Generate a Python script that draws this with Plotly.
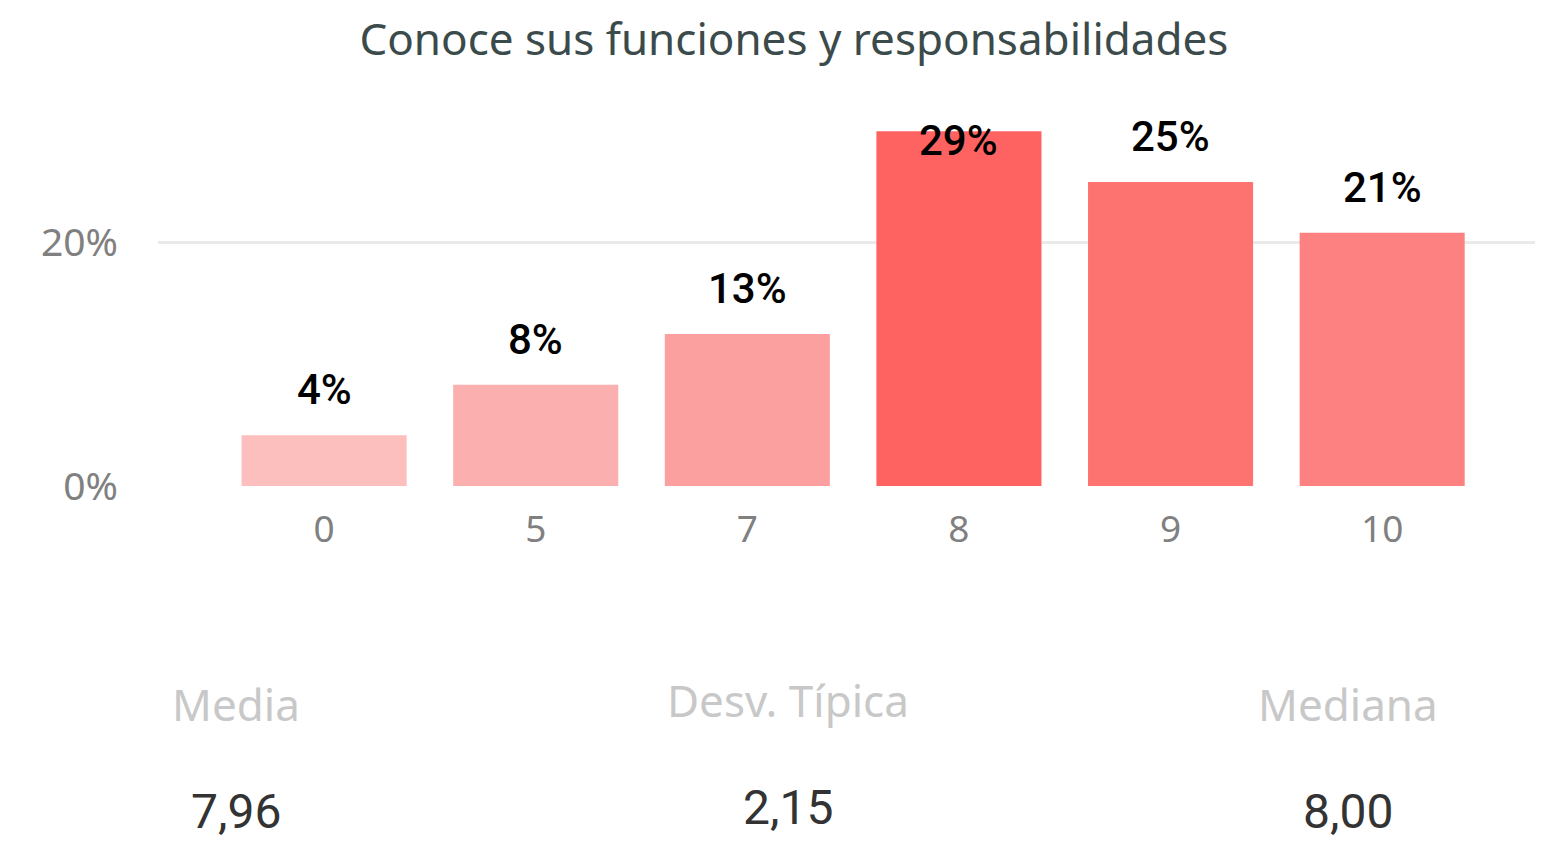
import plotly.graph_objects as go

categories = ["0", "5", "7", "8", "9", "10"]
values = [4.17, 8.33, 12.5, 29.17, 25.0, 20.83]
labels = ["4%", "8%", "13%", "29%", "25%", "21%"]
colors = ["#FDBEBE", "#FCAFAF", "#FC9F9F", "#FF6361", "#FD7370", "#FC8180"]
stat_names = ["Media", "Desv. Típica", "Mediana"]
stat_values = ["7,96", "2,15", "8,00"]
stat_x = [0.0565, 0.455, 0.859]
stat_name_y = [696, 692, 696]
stat_value_y = [803, 799, 803]

W, H = 1535, 834
L, R, T = 150, 0, 112
plot_bottom = 478
B = H - plot_bottom
plot_h = plot_bottom - T

fig = go.Figure()
fig.add_trace(go.Bar(
    x=categories, y=values, marker=dict(color=colors, line=dict(width=0)),
    width=0.78, hoverinfo="skip", showlegend=False,
))

ymax = 30.1
label_font = dict(family="Roboto", size=42, color="#000000", weight=500)
ann = []
for i, (v, t) in enumerate(zip(values, labels)):
    if v > ymax - 3:
        ann.append(dict(x=i, y=1, xref="x", yref="paper", text=t, showarrow=False,
                        yanchor="top", yshift=6, font=label_font))
    else:
        ann.append(dict(x=i, y=v, xref="x", yref="y", text=t, showarrow=False,
                        yanchor="bottom", yshift=19, font=label_font))

for nm, val, sx, ny, vy in zip(stat_names, stat_values, stat_x, stat_name_y, stat_value_y):
    ann.append(dict(x=sx, y=(plot_bottom - ny) / plot_h, xref="paper", yref="paper", text=nm,
                    showarrow=False, xanchor="center", yanchor="middle",
                    font=dict(family="Segoe UI, Noto Sans", size=44, color="#C8C8C8")))
    ann.append(dict(x=sx, y=(plot_bottom - vy) / plot_h, xref="paper", yref="paper", text=val,
                    showarrow=False, xanchor="center", yanchor="middle",
                    font=dict(family="Roboto", size=48, color="#333333")))

fig.update_layout(
    width=W, height=H,
    margin=dict(l=L, r=R, t=T, b=B, autoexpand=False),
    paper_bgcolor="white", plot_bgcolor="white",
    title=dict(text="Conoce sus funciones y responsabilidades", x=0.512, xanchor="center",
               y=1 - 32 / H, yanchor="middle",
               font=dict(family="Segoe UI, Noto Sans", size=44, color="#3B4A4A")),
    xaxis=dict(type="category", range=[-0.785, 5.76], showgrid=False, zeroline=False,
               showline=False, ticks="", ticklabelstandoff=18,
               tickfont=dict(family="Segoe UI, Noto Sans", size=37, color="#808080")),
    yaxis=dict(range=[0, ymax], tickvals=[0, 20], ticktext=["0%", "20%"], showgrid=True,
               gridcolor="#EAEAEA", gridwidth=3, zeroline=False, showline=False, ticks="",
               ticklabelstandoff=39,
               tickfont=dict(family="Segoe UI, Noto Sans", size=39, color="#808080")),
    annotations=ann,
)
fig.write_html("out.html")
